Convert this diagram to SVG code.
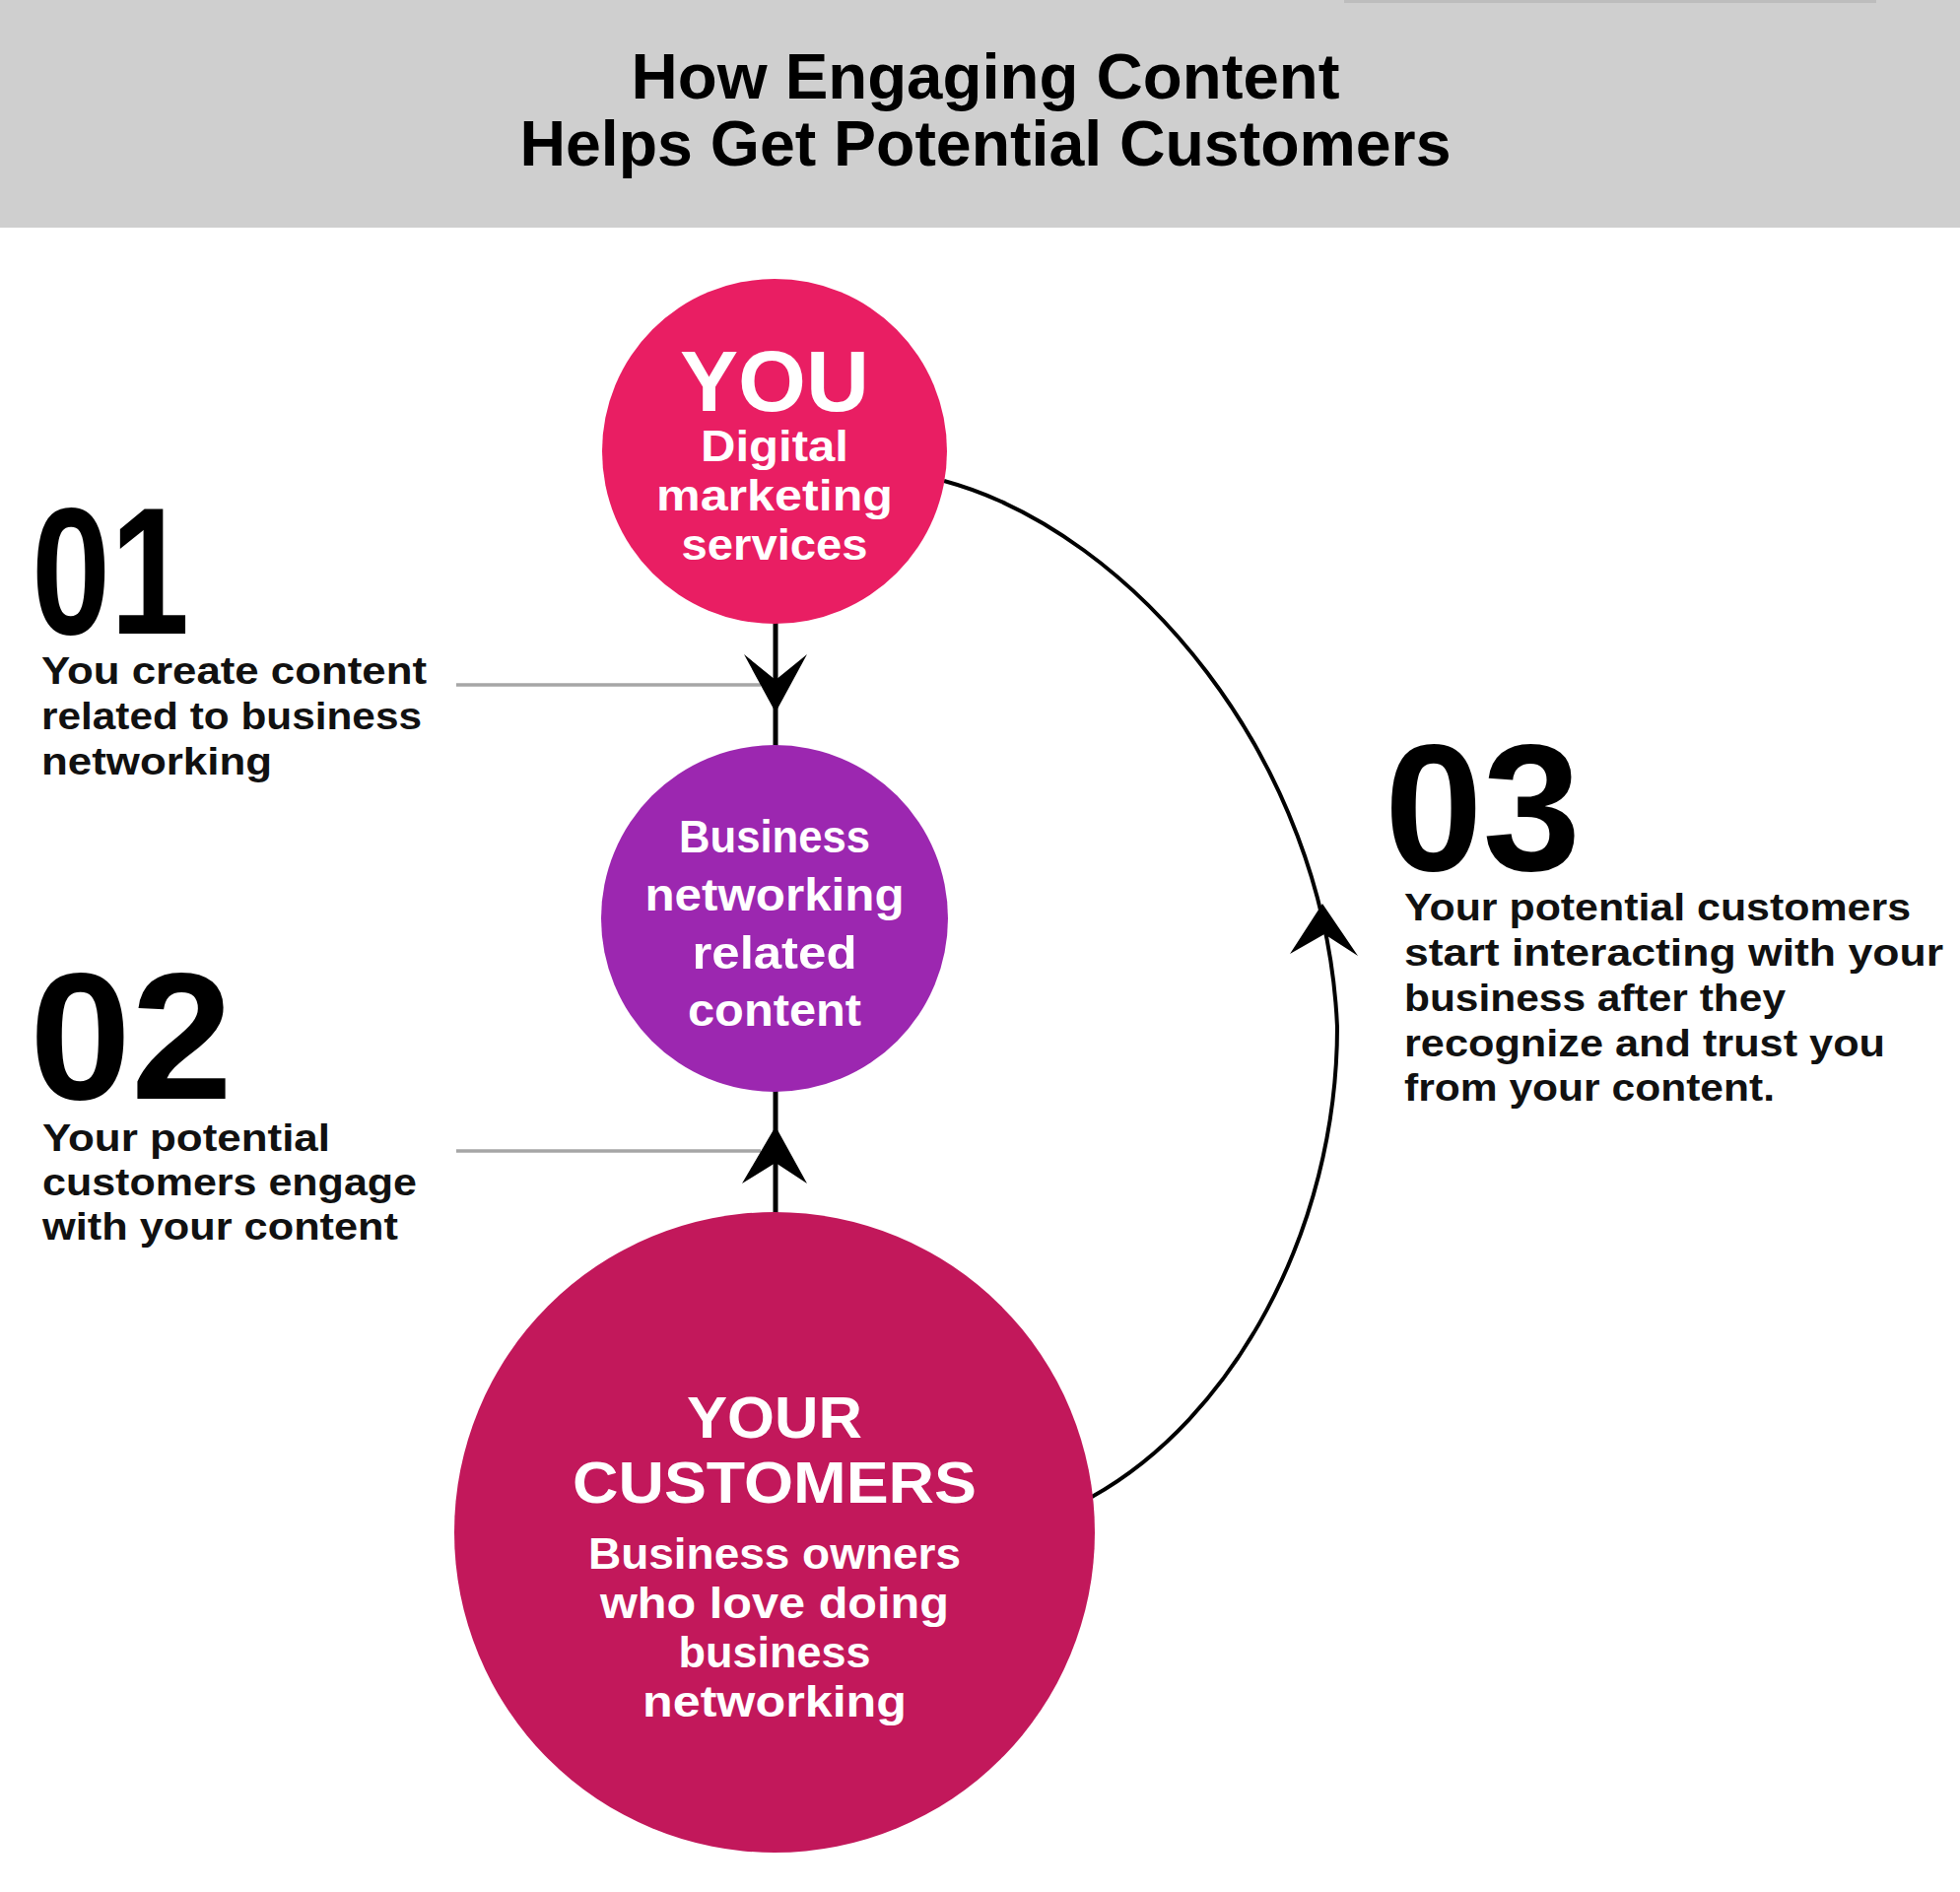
<svg xmlns="http://www.w3.org/2000/svg" width="1989" height="1920" viewBox="0 0 1989 1920">
<style>
.t{font-family:"Liberation Sans",Arial,sans-serif;font-weight:700}
.w{fill:#ffffff;text-anchor:middle}
.k{fill:#111111}
.num{font-family:"Liberation Sans",Arial,sans-serif;font-weight:700;font-size:184px;fill:#000000}
.conn{fill:none;stroke:#000000}
.guide{stroke:#a6a6a6;stroke-width:3.5;fill:none}
</style>
<rect x="0" y="0" width="1989" height="1920" fill="#ffffff"/>
<rect id="header" x="0" y="0" width="1989" height="231" fill="#cfcfcf"/>
<rect x="1364" y="0" width="540" height="3" fill="#bdbdbd"/>
<g id="title" class="t" font-size="65" fill="#000000" text-anchor="middle">
<text x="1000" y="100" textLength="719" lengthAdjust="spacingAndGlyphs">How Engaging Content</text>
<text x="1000" y="168" textLength="945" lengthAdjust="spacingAndGlyphs">Helps Get Potential Customers</text>
</g>
<g id="connectors">
<line class="guide" x1="463" y1="695" x2="772" y2="695"/>
<line class="guide" x1="463" y1="1168" x2="772" y2="1168"/>
<line class="conn" x1="787" y1="630" x2="787" y2="760" stroke-width="5"/>
<polygon points="787,723 755,664 787,690 819,664" fill="#000000"/>
<line class="conn" x1="787" y1="1105" x2="787" y2="1234" stroke-width="5"/>
<polygon points="787,1143 753,1201 787,1180 819,1201" fill="#000000"/>
<path class="conn" stroke-width="4" d="M958,488 C1150,540 1345,770 1357,1042 C1357,1250 1250,1440 1108,1519"/>
<polygon points="1342,917 1378,970 1344,948 1309,968" fill="#000000"/>
</g>
<g id="node-you">
<circle cx="786" cy="458" r="175" fill="#e91e63"/>
<text class="t w" x="786" y="417" font-size="88" textLength="192" lengthAdjust="spacingAndGlyphs">YOU</text>
<text class="t w" x="786" y="468" font-size="44" textLength="150" lengthAdjust="spacingAndGlyphs">Digital</text>
<text class="t w" x="786" y="518" font-size="44" textLength="240" lengthAdjust="spacingAndGlyphs">marketing</text>
<text class="t w" x="786" y="568" font-size="44" textLength="189" lengthAdjust="spacingAndGlyphs">services</text>
</g>
<g id="node-content">
<circle cx="786" cy="932" r="176" fill="#9c27b0"/>
<text class="t w" x="786" y="865" font-size="46" textLength="194" lengthAdjust="spacingAndGlyphs">Business</text>
<text class="t w" x="786" y="924" font-size="46" textLength="263" lengthAdjust="spacingAndGlyphs">networking</text>
<text class="t w" x="786" y="983" font-size="46" textLength="167" lengthAdjust="spacingAndGlyphs">related</text>
<text class="t w" x="786" y="1041" font-size="46" textLength="176" lengthAdjust="spacingAndGlyphs">content</text>
</g>
<g id="node-customers">
<circle cx="786" cy="1555" r="325" fill="#c2185b"/>
<text class="t w" x="786" y="1459" font-size="59" textLength="178" lengthAdjust="spacingAndGlyphs">YOUR</text>
<text class="t w" x="786" y="1525" font-size="59" textLength="410" lengthAdjust="spacingAndGlyphs">CUSTOMERS</text>
<text class="t w" x="786" y="1592" font-size="44" textLength="378" lengthAdjust="spacingAndGlyphs">Business owners</text>
<text class="t w" x="786" y="1642" font-size="44" textLength="354" lengthAdjust="spacingAndGlyphs">who love doing</text>
<text class="t w" x="786" y="1692" font-size="44" textLength="195" lengthAdjust="spacingAndGlyphs">business</text>
<text class="t w" x="786" y="1742" font-size="44" textLength="268" lengthAdjust="spacingAndGlyphs">networking</text>
</g>
<g id="step-01">
<text class="num" x="32" y="643" textLength="160" lengthAdjust="spacingAndGlyphs">01</text>
<text class="t k" x="42" y="694" font-size="38" textLength="391" lengthAdjust="spacingAndGlyphs">You create content</text>
<text class="t k" x="42" y="740" font-size="38" textLength="386" lengthAdjust="spacingAndGlyphs">related to business</text>
<text class="t k" x="42" y="786" font-size="38" textLength="234" lengthAdjust="spacingAndGlyphs">networking</text>
</g>
<g id="step-02">
<text class="num" x="30" y="1115" textLength="206" lengthAdjust="spacingAndGlyphs">02</text>
<text class="t k" x="43" y="1168" font-size="38" textLength="292" lengthAdjust="spacingAndGlyphs">Your potential</text>
<text class="t k" x="43" y="1213" font-size="38" textLength="380" lengthAdjust="spacingAndGlyphs">customers engage</text>
<text class="t k" x="43" y="1258" font-size="38" textLength="361" lengthAdjust="spacingAndGlyphs">with your content</text>
</g>
<g id="step-03">
<text class="num" x="1405" y="883" textLength="199" lengthAdjust="spacingAndGlyphs">03</text>
<text class="t k" x="1425" y="934" font-size="38" textLength="514" lengthAdjust="spacingAndGlyphs">Your potential customers</text>
<text class="t k" x="1425" y="980" font-size="38" textLength="547" lengthAdjust="spacingAndGlyphs">start interacting with your</text>
<text class="t k" x="1425" y="1026" font-size="38" textLength="387" lengthAdjust="spacingAndGlyphs">business after they</text>
<text class="t k" x="1425" y="1072" font-size="38" textLength="488" lengthAdjust="spacingAndGlyphs">recognize and trust you</text>
<text class="t k" x="1425" y="1117" font-size="38" textLength="376" lengthAdjust="spacingAndGlyphs">from your content.</text>
</g>
</svg>
